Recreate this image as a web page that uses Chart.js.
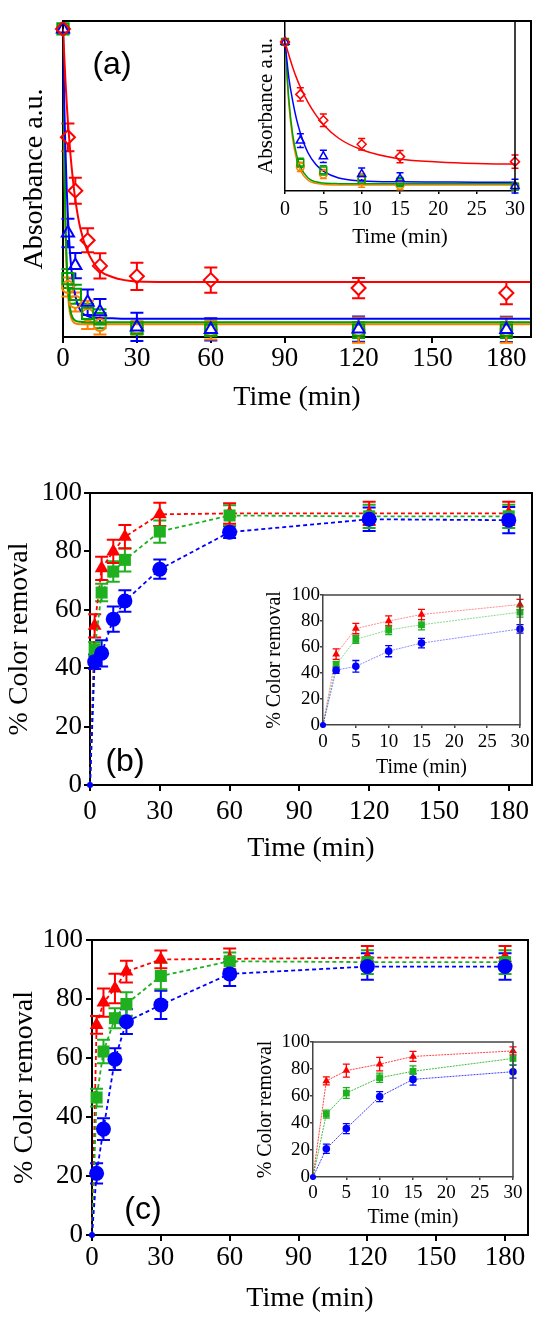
<!DOCTYPE html>
<html><head><meta charset="utf-8">
<script src="https://cdn.jsdelivr.net/npm/chart.js@4.4.0/dist/chart.umd.min.js"></script>
<style>
html,body{margin:0;padding:0;background:#fff;}
#wrap{position:relative;width:550px;height:1318px;overflow:hidden;background:#fff;}
canvas{position:absolute;}
.plabel{position:absolute;font-family:'Liberation Sans',Arial,sans-serif;font-size:32px;line-height:1;transform:translate(-50%,-50%);color:#000;white-space:nowrap;}
</style></head><body>
<div id="wrap">
<canvas id="cA"></canvas>
<canvas id="cB"></canvas>
<canvas id="cC"></canvas>
<canvas id="cAi"></canvas>
<canvas id="cBi"></canvas>
<canvas id="cCi"></canvas>
<div class="plabel" style="left:112px;top:63px">(a)</div>
<div class="plabel" style="left:125px;top:760px">(b)</div>
<div class="plabel" style="left:143px;top:1208px">(c)</div>
</div>
<script>
// ---------- shared axes ----------
const times = [0, 2, 5, 10, 15, 30, 60, 120, 180];
const xTicksMain = [0, 30, 60, 90, 120, 150, 180];
const xTicksInset = [0, 5, 10, 15, 20, 25, 30];
const yTicksPct = [0, 20, 40, 60, 80, 100];

// ---------- panel (a): normalised absorbance ----------
const aRed = [0.975, 0.632, 0.463, 0.306, 0.225, 0.192, 0.180, 0.155, 0.139];
const aRedErr = [0, 0.044, 0.041, 0.038, 0.040, 0.043, 0.040, 0.032, 0.035];
const aBlue = [0.975, 0.329, 0.226, 0.110, 0.080, 0.032, 0.024, 0.025, 0.024];
const aBlueErr = [0, 0.045, 0.040, 0.040, 0.040, 0.045, 0.035, 0.040, 0.040];
const aGreen = [0.975, 0.185, 0.135, 0.075, 0.058, 0.028, 0.022, 0.022, 0.022];
const aGreenErr = [0, 0.030, 0.030, 0.030, 0.030, 0.020, 0.020, 0.025, 0.025];
const aOrange = [0.975, 0.158, 0.111, 0.070, 0.038, 0.030, 0.022, 0.022, 0.022];
const aOrangeErr = [0, 0.030, 0.030, 0.045, 0.030, 0.020, 0.030, 0.040, 0.040];
// fitted curves
const fitT = [0, 0.5, 1, 1.5, 2, 3, 4, 5, 7, 10, 15, 20, 25, 30, 60, 120, 190];
const fitRed = [0.975, 0.89, 0.81, 0.74, 0.68, 0.58, 0.50, 0.435, 0.345, 0.27, 0.21, 0.19, 0.18, 0.176, 0.174, 0.174, 0.174];
const fitBlue = [0.975, 0.74, 0.59, 0.47, 0.38, 0.25, 0.175, 0.13, 0.085, 0.066, 0.060, 0.059, 0.058, 0.058, 0.058, 0.058, 0.058];
const fitGreen = [0.975, 0.60, 0.37, 0.24, 0.16, 0.085, 0.060, 0.052, 0.048, 0.047, 0.047, 0.047, 0.047, 0.047, 0.047, 0.047, 0.047];
const fitOrange = [0.975, 0.57, 0.34, 0.21, 0.135, 0.070, 0.050, 0.043, 0.040, 0.040, 0.040, 0.040, 0.040, 0.040, 0.040, 0.040, 0.040];

// ---------- panel (b): % colour removal ----------
const bRed = [0, 54.5, 74.2, 80.0, 85.0, 92.7, 93.0, 93.0, 93.0];
const bRedErr = [0, 4.0, 4.0, 4.0, 4.0, 4.0, 3.5, 4.0, 4.0];
const bGreen = [0, 46.5, 65.9, 73.1, 77.1, 86.8, 92.3, 92.0, 92.0];
const bGreenErr = [0, 2.5, 3.0, 3.5, 4.0, 3.8, 3.5, 4.0, 4.0];
const bBlue = [0, 42.2, 45.1, 56.8, 63.0, 73.9, 86.6, 91.0, 90.7];
const bBlueErr = [0, 2.5, 4.5, 4.3, 3.7, 3.3, 2.0, 4.0, 4.5];

// ---------- panel (c): % colour removal ----------
const cRed = [0, 71.2, 78.8, 83.6, 89.3, 93.4, 93.6, 94.0, 94.0];
const cRedErr = [0, 3.0, 4.8, 5.0, 3.7, 3.0, 3.5, 4.0, 4.0];
const cGreen = [0, 46.6, 62.2, 73.5, 78.3, 87.8, 92.8, 92.5, 92.5];
const cGreenErr = [0, 3.0, 4.0, 3.4, 4.0, 4.5, 3.0, 4.0, 4.0];
const cBlue = [0, 20.9, 35.9, 59.6, 72.3, 78.0, 88.5, 91.0, 91.0];
const cBlueErr = [0, 3.4, 3.7, 3.7, 4.2, 4.8, 4.1, 4.5, 4.5];

// ---------- colours ----------
const RED = '#ff0000', BLUE = '#0000ff', GREEN_A = '#00a000', ORANGE = '#ff8000', GREEN = '#1fb01f';

const pts = (xs, ys) => xs.map((x, i) => ({x: x, y: ys[i]}));

// ---------- plugins ----------
const errorBars = {
  id: 'errorBars',
  beforeDatasetsDraw(chart) {
    const ctx = chart.ctx, x = chart.scales.x, y = chart.scales.y;
    chart.data.datasets.forEach((ds, di) => {
      if (!ds.errors || !chart.isDatasetVisible(di)) return;
      ctx.save();
      ctx.strokeStyle = ds.errColor || ds.borderColor;
      ctx.lineWidth = ds.errWidth || 2;
      ctx.setLineDash([]);
      ds.data.forEach((p, i) => {
        const e = ds.errors[i];
        if (!e || p.x < x.min || p.x > x.max) return;
        const px = x.getPixelForValue(p.x);
        const py = y.getPixelForValue(p.y);
        const pt = y.getPixelForValue(p.y + e);
        const pb = y.getPixelForValue(p.y - e);
        const gap = ds.errGap || 0, cap = ds.capHalf || 6;
        ctx.beginPath();
        if (py - gap > pt) { ctx.moveTo(px, pt); ctx.lineTo(px, py - gap); }
        if (py + gap < pb) { ctx.moveTo(px, py + gap); ctx.lineTo(px, pb); }
        ctx.moveTo(px - cap, pt); ctx.lineTo(px + cap, pt);
        ctx.moveTo(px - cap, pb); ctx.lineTo(px + cap, pb);
        ctx.stroke();
      });
      ctx.restore();
    });
  }
};
const frame = {
  id: 'frame',
  afterDatasetsDraw(chart, args, opts) {
    if (!opts || !opts.show) return;
    const ctx = chart.ctx, ca = chart.chartArea, h = opts.width / 2;
    ctx.save();
    ctx.strokeStyle = opts.color; ctx.lineWidth = opts.width;
    ctx.beginPath();
    if (opts.top) { ctx.moveTo(ca.left - h, ca.top); ctx.lineTo(ca.right + h, ca.top); }
    if (opts.right) { ctx.moveTo(ca.right, ca.top - h); ctx.lineTo(ca.right, ca.bottom + h); }
    ctx.stroke();
    ctx.restore();
  }
};
Chart.register(errorBars, frame);

const serif = 'Liberation Serif';

function build(id, box, plot, c) {
  const cv = document.getElementById(id);
  cv.width = box.w; cv.height = box.h;
  cv.style.left = box.l + 'px'; cv.style.top = box.t + 'px';
  const yW = plot.l - box.l;
  const xH = box.t + box.h - plot.b;
  return new Chart(cv, {
    type: 'line',
    data: {datasets: c.datasets},
    options: {
      responsive: false, animation: false,
      layout: {padding: {left: 0, top: plot.t - box.t, right: box.l + box.w - plot.r, bottom: 0}},
      plugins: {legend: {display: false}, tooltip: {enabled: false}, frame: c.frame},
      scales: {
        x: {
          type: 'linear', min: c.xMin, max: c.xMax,
          afterFit: s => { s.height = xH; },
          afterBuildTicks: s => { s.ticks = c.xTicks.map(v => ({value: v})); },
          grid: {display: true, drawOnChartArea: false, drawTicks: true, tickLength: c.xTickLen, color: c.axisColor, lineWidth: c.axisWidth},
          border: {display: true, color: c.axisColor, width: c.axisWidth},
          ticks: {color: '#000', font: {family: serif, size: c.tickFont}, padding: c.xTickPad, maxRotation: 0, autoSkip: false},
          title: {display: true, text: 'Time (min)', color: '#000', font: {family: serif, size: c.titleFont}, padding: {top: 0, bottom: 0}}
        },
        y: {
          type: 'linear', min: c.yMin, max: c.yMax,
          afterFit: s => { s.width = yW; },
          afterBuildTicks: s => { if (c.yTicks) s.ticks = c.yTicks.map(v => ({value: v})); },
          grid: {display: !!c.yTicks, drawOnChartArea: false, drawTicks: true, tickLength: c.yTickLen || 0, color: c.axisColor, lineWidth: c.axisWidth},
          border: {display: true, color: c.axisColor, width: c.axisWidth},
          ticks: {display: !!c.yTicks, color: '#000', font: {family: serif, size: c.tickFont}, padding: c.yTickPad || 0, autoSkip: false},
          title: {display: true, text: c.yTitle, color: '#000', font: {family: serif, size: c.yTitleFont || c.titleFont}, padding: {top: c.yTitlePad, bottom: 0}}
        }
      }
    }
  });
}

// ---------- dataset factories ----------
function fitLine(ys, color, width) {
  return {data: pts(fitT, ys), borderColor: color, borderWidth: width, pointRadius: 0,
          cubicInterpolationMode: 'monotone', fill: false, clip: 0};
}
function openPts(ys, errs, color, style, r, bw, cap, ew) {
  return {data: pts(times, ys), showLine: false, borderColor: color, pointStyle: style,
          pointRadius: r, pointBorderColor: color, pointBackgroundColor: 'rgba(0,0,0,0)',
          pointBorderWidth: bw, errors: errs, errColor: color, errWidth: ew, errGap: r, capHalf: cap, clip: 10};
}
function filledSeries(ys, errs, color, lineColor, style, r, lw, dash, cap, ew) {
  return {data: pts(times, ys), borderColor: lineColor, borderWidth: lw, borderDash: dash, tension: 0,
          pointStyle: style, pointRadius: ctx => (ctx.dataIndex === 0 ? Math.min(r, 3) : r),
          pointBorderColor: color, pointBackgroundColor: color, pointBorderWidth: 0,
          errors: errs, errColor: color, errWidth: ew, capHalf: cap, clip: 10, fill: false};
}

function panelA(big) {
  const r = big ? 1 : 0.6;
  const lw = big ? 2 : 1.5;
  const cap = big ? 6.5 : 3.5;
  return [
    openPts(aRed, aRedErr, RED, 'rectRot', 7 * r + (big ? 0 : 0.3), lw, cap, lw),
    openPts(aBlue, aBlueErr, BLUE, 'triangle', 7 * r + (big ? 0 : 0.5), lw, cap, lw),
    openPts(aGreen, aGreenErr, GREEN_A, 'rect', 8 * r, lw, cap, lw),
    openPts(aOrange, aOrangeErr, ORANGE, 'circle', 6 * r + (big ? 0 : 0.3), lw, cap, lw),
    fitLine(fitRed, RED, lw),
    fitLine(fitBlue, BLUE, lw),
    fitLine(fitGreen, GREEN_A, lw),
    fitLine(fitOrange, ORANGE, lw)
  ];
}
function panelPct(bl, blE, gr, grE, rd, rdE, big, alpha) {
  if (big) {
    return [
      filledSeries(bl, blE, BLUE, BLUE, 'circle', 7.5, 1.8, [4, 3], 6.5, 2),
      filledSeries(gr, grE, GREEN, GREEN, 'rect', 8.5, 1.8, [4, 3], 6.5, 2),
      filledSeries(rd, rdE, RED, RED, 'triangle', 8, 1.8, [4, 3], 6.5, 2)
    ];
  }
  return [
    filledSeries(bl, blE, BLUE, 'rgba(0,0,255,' + alpha + ')', 'circle', 3.8, 1, [2, 1], 3.5, 1.3),
    filledSeries(gr, grE, GREEN, 'rgba(0,170,0,' + alpha + ')', 'rect', 4.8, 1, [2, 1], 3.5, 1.3),
    filledSeries(rd, rdE, RED, 'rgba(255,0,0,' + alpha + ')', 'triangle', 4.5, 1, [2, 1], 3.5, 1.3)
  ];
}

// ---------- main panels ----------
build('cA', {l: 0, t: 0, w: 550, h: 414}, {l: 63, t: 21, r: 531, b: 337}, {
  datasets: panelA(true), xMin: 0, xMax: 190, xTicks: xTicksMain, yMin: 0, yMax: 1,
  axisColor: '#000', axisWidth: 2, xTickLen: 6, xTickPad: 0, tickFont: 27, titleFont: 28,
  yTitle: 'Absorbance a.u.', yTitlePad: 18, frame: {show: true, top: true, right: true, color: '#000', width: 2}
});
build('cB', {l: 0, t: 440, w: 550, h: 425}, {l: 90, t: 493, r: 532, b: 785}, {
  datasets: panelPct(bBlue, bBlueErr, bGreen, bGreenErr, bRed, bRedErr, true), xMin: 0, xMax: 190, xTicks: xTicksMain,
  yMin: 0, yMax: 100, yTicks: yTicksPct, yTickLen: 6, yTickPad: 2,
  axisColor: '#000', axisWidth: 2, xTickLen: 6, xTickPad: 5, tickFont: 27, titleFont: 28,
  yTitle: '% Color removal', yTitlePad: 3, frame: {show: true, top: true, right: true, color: '#000', width: 2}
});
build('cC', {l: 0, t: 890, w: 550, h: 425}, {l: 92, t: 940, r: 528, b: 1235}, {
  datasets: panelPct(cBlue, cBlueErr, cGreen, cGreenErr, cRed, cRedErr, true), xMin: 0, xMax: 190, xTicks: xTicksMain,
  yMin: 0, yMax: 100, yTicks: yTicksPct, yTickLen: 6, yTickPad: 3,
  axisColor: '#000', axisWidth: 2, xTickLen: 6, xTickPad: 1, tickFont: 27, titleFont: 28,
  yTitle: '% Color removal', yTitlePad: 8, frame: {show: true, top: true, right: true, color: '#000', width: 2}
});

// ---------- insets ----------
build('cAi', {l: 250, t: 0, w: 280, h: 250}, {l: 285, t: 21, r: 515, b: 191}, {
  datasets: panelA(false), xMin: 0, xMax: 30, xTicks: xTicksInset, yMin: 0, yMax: 1.112,
  axisColor: '#000', axisWidth: 1.5, xTickLen: 3, xTickPad: 4, tickFont: 20, titleFont: 21,
  yTitle: 'Absorbance a.u.', yTitlePad: 4, frame: {show: true, top: false, right: true, color: '#000', width: 1.5}
});
build('cBi', {l: 255, t: 580, w: 285, h: 200}, {l: 323, t: 595, r: 520, b: 725}, {
  datasets: panelPct(bBlue, bBlueErr, bGreen, bGreenErr, bRed, bRedErr, false, 0.45), xMin: 0, xMax: 30, xTicks: xTicksInset,
  yMin: 0, yMax: 100, yTicks: yTicksPct, yTickLen: 3, yTickPad: 0,
  axisColor: '#444', axisWidth: 1.5, xTickLen: 3, xTickPad: 3, tickFont: 19, titleFont: 20,
  yTitle: '% Color removal', yTitlePad: 8, frame: {show: true, top: true, right: true, color: '#444', width: 1.5}
});
build('cCi', {l: 245, t: 1025, w: 285, h: 205}, {l: 313, t: 1042, r: 513, b: 1177}, {
  datasets: panelPct(cBlue, cBlueErr, cGreen, cGreenErr, cRed, cRedErr, false, 0.75), xMin: 0, xMax: 30, xTicks: xTicksInset,
  yMin: 0, yMax: 100, yTicks: yTicksPct, yTickLen: 3, yTickPad: 0,
  axisColor: '#444', axisWidth: 1.5, xTickLen: 3, xTickPad: 2, tickFont: 19, titleFont: 20,
  yTitle: '% Color removal', yTitlePad: 9, frame: {show: true, top: true, right: true, color: '#444', width: 1.5}
});
</script>
</body></html>
